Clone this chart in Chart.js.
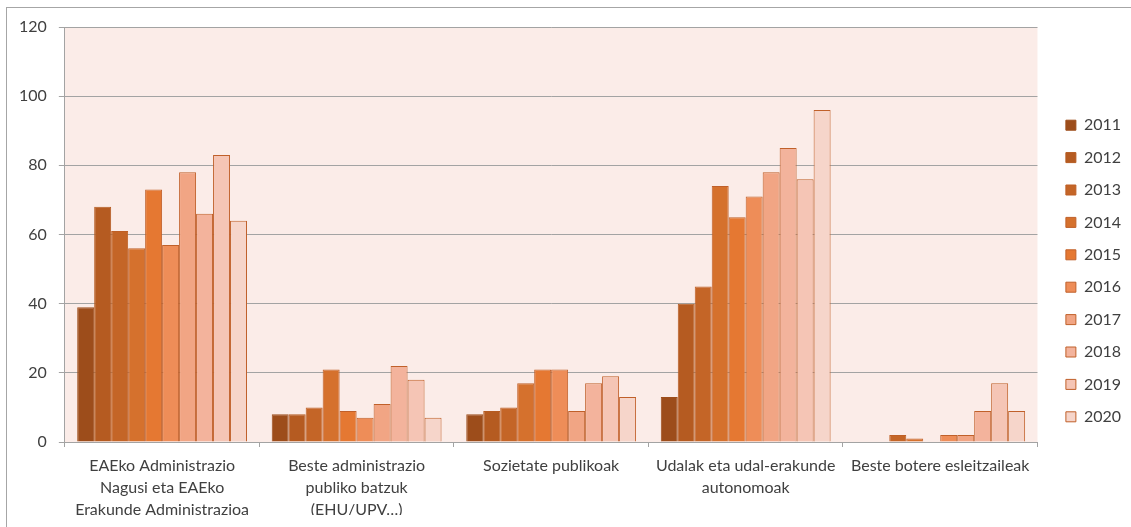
<!DOCTYPE html>
<html>
<head>
<meta charset="utf-8">
<script src="https://cdn.jsdelivr.net/npm/chart.js@4.4.1/dist/chart.umd.min.js"></script>
<style>
  html, body { margin: 0; padding: 0; background: #fff; overflow: hidden; }
  #frame { position: absolute; left: 6px; top: 7px; width: 1140px; height: 600px; border: 1px solid #a6a6a6; }
  #wrap { position: absolute; left: 0; top: 0; width: 1131px; height: 527px; }
</style>
</head>
<body>
<div id="frame"></div>
<div id="wrap"><canvas id="chart"></canvas></div>
<script>
// categories (x axis, wrapped like the original)
const categories = [
    ['EAEko Administrazio', 'Nagusi eta EAEko', 'Erakunde Administrazioa'],
    ['Beste administrazio', 'publiko batzuk', '(EHU/UPV…)'],
    'Sozietate publikoak',
    ['Udalak eta udal-erakunde', 'autonomoak'],
    'Beste botere esleitzaileak'
];
const years = ['2011', '2012', '2013', '2014', '2015', '2016', '2017', '2018', '2019', '2020'];

// one array per year, values per category
const v2011 = [39, 8, 8, 13, 0];
const v2012 = [68, 8, 9, 40, 0];
const v2013 = [61, 10, 10, 45, 2];
const v2014 = [56, 21, 17, 74, 1];
const v2015 = [73, 9, 21, 65, 0];
const v2016 = [57, 7, 21, 71, 2];
const v2017 = [78, 11, 9, 78, 2];
const v2018 = [66, 22, 17, 85, 9];
const v2019 = [83, 18, 19, 76, 17];
const v2020 = [64, 7, 13, 96, 9];
const yTicks = [0, 20, 40, 60, 80, 100, 120];

const seriesValues = [v2011, v2012, v2013, v2014, v2015, v2016, v2017, v2018, v2019, v2020];
const fills = ['#9D4D1B', '#B55B21', '#C46527', '#D5712D', '#E57832',
               '#EE8D58', '#F1A584', '#F3B39C', '#F5C5B5', '#F6D5CA'];
const borders = ['#9D4D1B', '#B55B21', '#BE5F25', '#C0602A', '#C0602A',
                 '#C0602A', '#C0602A', '#C0602A', '#C0602A', '#C0602A'];

Chart.defaults.font.family = 'Lato, "Open Sans", sans-serif';
Chart.defaults.font.size = 16;
Chart.defaults.color = '#404040';

// pale plot background
const plotBackground = {
    id: 'plotBackground',
    beforeDraw(chart) {
        const {ctx, chartArea} = chart;
        ctx.save();
        ctx.fillStyle = '#FBECE8';
        ctx.fillRect(chartArea.left, chartArea.top, chartArea.right - chartArea.left, chartArea.bottom - chartArea.top);
        ctx.restore();
    }
};

const gridColor = '#A3A3A3';

new Chart(document.getElementById('chart').getContext('2d'), {
    type: 'bar',
    data: {
        labels: categories,
        datasets: years.map((y, i) => ({
            label: y,
            data: seriesValues[i],
            backgroundColor: fills[i],
            borderColor: borders[i],
            borderWidth: 1,
            yAxisID: 'y',
            categoryPercentage: 0.873,
            barPercentage: 1.0
        }))
    },
    options: {
        responsive: true,
        maintainAspectRatio: false,
        animation: false,
        layout: {
            padding: { left: 7, top: 27, right: 0, bottom: 12 }
        },
        plugins: {
            title: { display: false },
            tooltip: { enabled: false },
            legend: {
                position: 'right',
                labels: {
                    boxWidth: 10,
                    boxHeight: 10,
                    padding: 16.4,
                    font: { size: 16 }
                }
            }
        },
        scales: {
            y: {
                min: 0,
                max: 120,
                afterBuildTicks: axis => {
                    axis.ticks = yTicks.map(v => ({ value: v }));
                },
                grid: { color: gridColor, tickLength: 6 },
                border: { color: gridColor },
                ticks: { padding: 12 }
            },
            gap: {
                type: 'linear',
                position: 'right',
                grid: { display: false, drawTicks: false },
                border: { display: false },
                ticks: { display: false },
                afterFit: s => { s.width = 12; }
            },
            x: {
                grid: {
                    drawOnChartArea: false,
                    drawTicks: true,
                    tickLength: 5,
                    color: gridColor
                },
                border: { color: gridColor },
                ticks: {
                    padding: 8,
                    maxRotation: 0,
                    autoSkip: false,
                    font: { size: 16, lineHeight: 22 / 16 }
                },
                afterFit: s => { s.height = 73; }
            }
        }
    },
    plugins: [plotBackground]
});
</script>
</body>
</html>
